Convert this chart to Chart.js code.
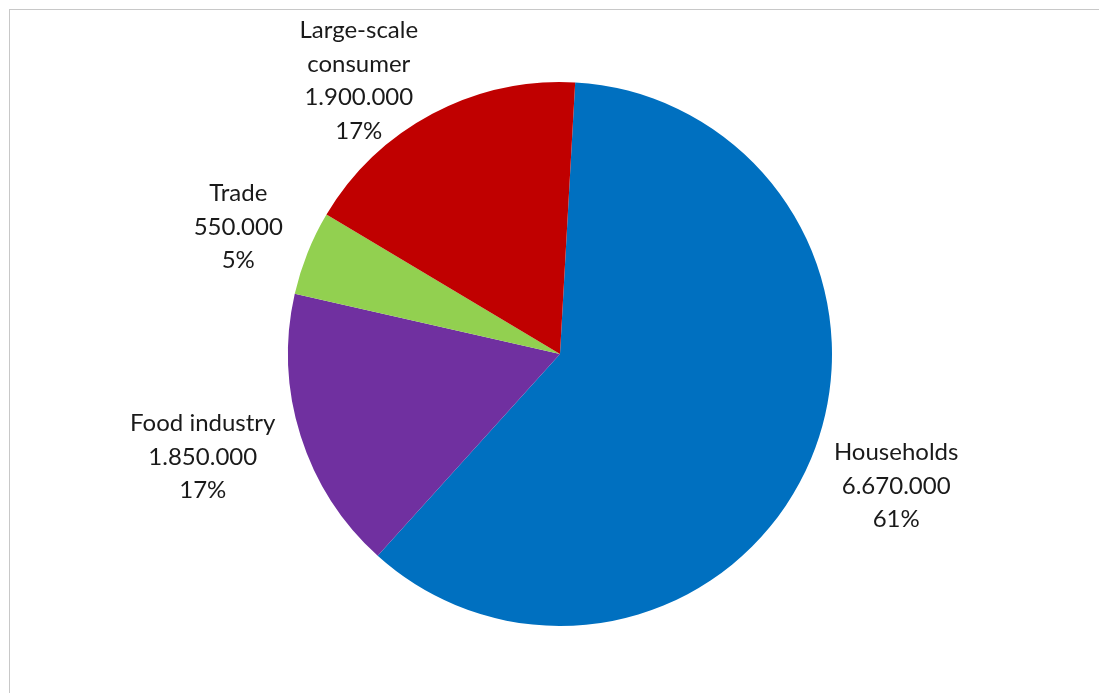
<!DOCTYPE html>
<html>
<head>
<meta charset="utf-8">
<script src="https://cdn.jsdelivr.net/npm/chart.js@4/dist/chart.umd.min.js"></script>
<style>
    html, body { margin: 0; padding: 0; background: #fff; }
    #wrap {
        position: absolute; left: 9px; top: 9px; width: 1100px; height: 700px;
        border-left: 1px solid #c8c8c8; border-top: 1px solid #c8c8c8;
        box-sizing: border-box;
    }
    #chart { display: block; }
</style>
</head>
<body>
<div id="wrap"><canvas id="chart" width="1090" height="684"></canvas></div>
<script>
// 数据
const categories = ['Households', 'Food industry', 'Trade', 'Large-scale consumer'];
const labelLines = [['Households'], ['Food industry'], ['Trade'], ['Large-scale', 'consumer']];
const values = [6670000, 1850000, 550000, 1900000];
const percents = ['61%', '17%', '5%', '17%'];
const colors = ['#0070c0', '#7030a0', '#92d050', '#c00000'];

const FONT = '24px Lato, "Open Sans", sans-serif';
const LINE_H = 33.5;

// 数字格式: 6.670.000
function fmt(v) {
    return String(v).replace(/\B(?=(\d{3})+(?!\d))/g, '.');
}

/**
 * 外侧数据标签
 */
const outsideLabels = {
    id: 'outsideLabels',
    afterDatasetsDraw(chart) {
        const ctx = chart.ctx;
        const meta = chart.getDatasetMeta(0);
        ctx.save();
        ctx.font = FONT;
        ctx.fillStyle = '#1a1a1a';
        ctx.textAlign = 'center';
        ctx.textBaseline = 'middle';
        meta.data.forEach((arc, i) => {
            const lines = labelLines[i].concat([fmt(values[i]), percents[i]]);
            const w = Math.max(...lines.map(l => ctx.measureText(l).width));
            const h = lines.length * LINE_H;
            const mid = (arc.startAngle + arc.endAngle) / 2;
            const dx = Math.cos(mid), dy = Math.sin(mid);
            const r = arc.outerRadius + 20;
            let cx = arc.x + dx * (r + 10) + dx * w / 2;
            let cy = arc.y + dy * r + dy * h / 2;
            // 超出顶部时向下挪，并稍微向外
            const minTop = 4;
            if (cy - h / 2 < minTop) {
                const shift = minTop - (cy - h / 2);
                cy += shift;
                cx += Math.sign(dx) * shift * 0.72;
            }
            lines.forEach((l, k) => {
                ctx.fillText(l, cx, cy - h / 2 + LINE_H * (k + 0.5));
            });
        });
        ctx.restore();
    }
};

new Chart(document.getElementById('chart'), {
    type: 'pie',
    data: {
        labels: categories,
        datasets: [{
            data: values,
            backgroundColor: colors,
            borderWidth: 0
        }]
    },
    options: {
        responsive: false,
        animation: false,
        rotation: 3.2,
        layout: { padding: { left: 278, right: 268, top: 72, bottom: 68 } },
        plugins: {
            legend: { display: false },
            tooltip: { enabled: false }
        }
    },
    plugins: [outsideLabels]
});
</script>
</body>
</html>
